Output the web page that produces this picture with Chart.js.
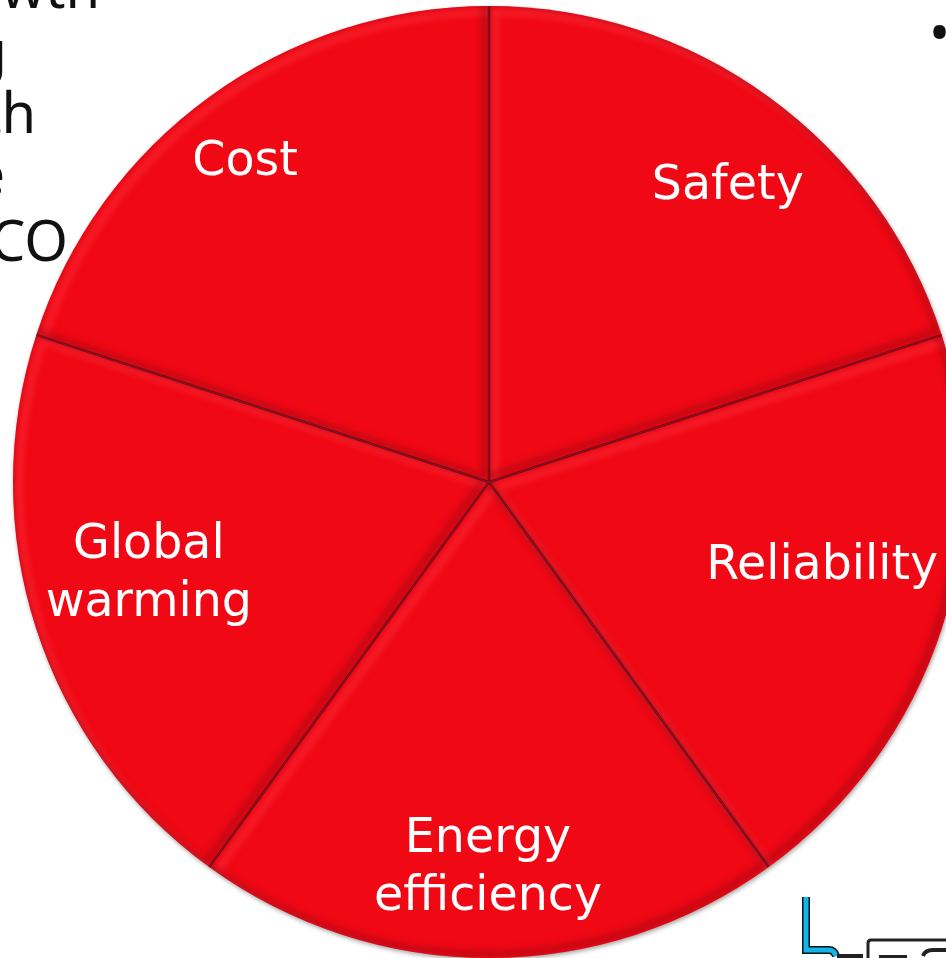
<!DOCTYPE html>
<html>
<head>
<meta charset="utf-8">
<style>
  html, body { margin: 0; padding: 0; background: #fff; }
  body { width: 946px; height: 958px; overflow: hidden; position: relative; }
  #chart { position: absolute; left: 0; top: 0; filter: drop-shadow(1px 2px 2px rgba(0,0,0,0.35)); }
  .bg { position: absolute; font: 56px "Noto Sans", sans-serif; color: #111; white-space: nowrap; line-height: 1; }
  #plant { position: absolute; left: 795px; top: 890px; }
</style>
<script src="https://cdn.jsdelivr.net/npm/chart.js@4"></script>
</head>
<body>
<!-- slide text that sits behind the pie -->
<div class="bg" style="right:846px;top:-42px">owth</div>
<div class="bg" style="right:939px;top:21px">ng</div>
<div class="bg" style="right:910px;top:83px">with</div>
<div class="bg" style="right:941px;top:144px">the</div>
<div class="bg" style="right:878px;top:211px">CO</div>
<div class="bg" style="left:929px;top:3px">•</div>
<svg id="plant" width="151" height="68">
  <path d="M11 7V60H34Q39 60 41 66" fill="none" stroke="#111" stroke-width="8"/>
  <path d="M11 7V60H34Q39 60 41 66" fill="none" stroke="#12b5ea" stroke-width="5"/>
  <path d="M73 68V53Q73 50 76 50H151" fill="none" stroke="#222" stroke-width="3"/>
  <path d="M42 66H68M84 67H112M128 66Q130 60 138 60H151" fill="none" stroke="#222" stroke-width="4"/>
</svg>
<canvas id="chart" width="978" height="964"></canvas>
<script>
const categories = ["Safety", "Reliability", "Energy efficiency", "Global warming", "Cost"];
const shares = [20, 20, 20, 20, 20];
const labelLines = [["Safety"], ["Reliability"], ["Energy", "efficiency"], ["Global", "warming"], ["Cost"]];
const labelNudges = [[15, 13], [-29, -33], [-1, 6], [22, -25], [-20, -11]];

const PIE_RED = "#f00814";

function slicePath(ctx, arc, dx, dy) {
  const { x, y, startAngle, endAngle, outerRadius } = arc.getProps(["x", "y", "startAngle", "endAngle", "outerRadius"]);
  ctx.beginPath();
  ctx.moveTo(x + dx, y + dy);
  ctx.arc(x + dx, y + dy, outerRadius, startAngle, endAngle);
  ctx.closePath();
}

function spokePath(ctx, arc) {
  const { x, y, startAngle, endAngle, outerRadius } = arc.getProps(["x", "y", "startAngle", "endAngle", "outerRadius"]);
  ctx.beginPath();
  ctx.moveTo(x + Math.cos(startAngle) * outerRadius, y + Math.sin(startAngle) * outerRadius);
  ctx.lineTo(x, y);
  ctx.lineTo(x + Math.cos(endAngle) * outerRadius, y + Math.sin(endAngle) * outerRadius);
}

// PowerPoint style bevel: light on top/left edges, dark on bottom/right
const bevelPlugin = {
  id: "bevel",
  afterDatasetsDraw(chart) {
    const ctx = chart.ctx;
    chart.getDatasetMeta(0).data.forEach((arc) => {
      ctx.save();
      slicePath(ctx, arc, 0, 0);
      ctx.clip();

      ctx.filter = "blur(3px)";
      slicePath(ctx, arc, 6, 6);
      ctx.strokeStyle = "rgba(255,60,70,0.45)";
      ctx.lineWidth = 7;
      ctx.stroke();

      slicePath(ctx, arc, -4, -4);
      ctx.strokeStyle = "rgba(150,5,20,0.5)";
      ctx.lineWidth = 7;
      ctx.stroke();

      ctx.filter = "blur(0.6px)";
      spokePath(ctx, arc);
      ctx.strokeStyle = "rgba(105,10,25,0.85)";
      ctx.lineWidth = 2.5;
      ctx.stroke();
      ctx.restore();
    });
  },
};

const labelPlugin = {
  id: "sliceLabels",
  afterDraw(chart) {
    const ctx = chart.ctx;
    ctx.save();
    ctx.fillStyle = "#fff";
    ctx.font = '47.5px "DejaVu Sans", sans-serif';
    ctx.textAlign = "center";
    ctx.textBaseline = "middle";
    chart.getDatasetMeta(0).data.forEach((arc, i) => {
      const { x, y, startAngle, endAngle, outerRadius } = arc.getProps(["x", "y", "startAngle", "endAngle", "outerRadius"]);
      const mid = (startAngle + endAngle) / 2;
      const cx = x + Math.cos(mid) * outerRadius * 0.8 + labelNudges[i][0];
      const cy = y + Math.sin(mid) * outerRadius * 0.8 + labelNudges[i][1];
      const lines = labelLines[i];
      lines.forEach((line, n) => {
        ctx.fillText(line, cx, cy + (n - (lines.length - 1) / 2) * 58);
      });
    });
    ctx.restore();
  },
};

new Chart(document.getElementById("chart"), {
  type: "pie",
  data: {
    labels: categories,
    datasets: [{
      data: shares,
      backgroundColor: PIE_RED,
      borderWidth: 0,
    }],
  },
  options: {
    responsive: false,
    animation: false,
    radius: 476,
    plugins: {
      legend: { display: false },
      tooltip: { enabled: false },
    },
  },
  plugins: [bevelPlugin, labelPlugin],
});
</script>
</body>
</html>
